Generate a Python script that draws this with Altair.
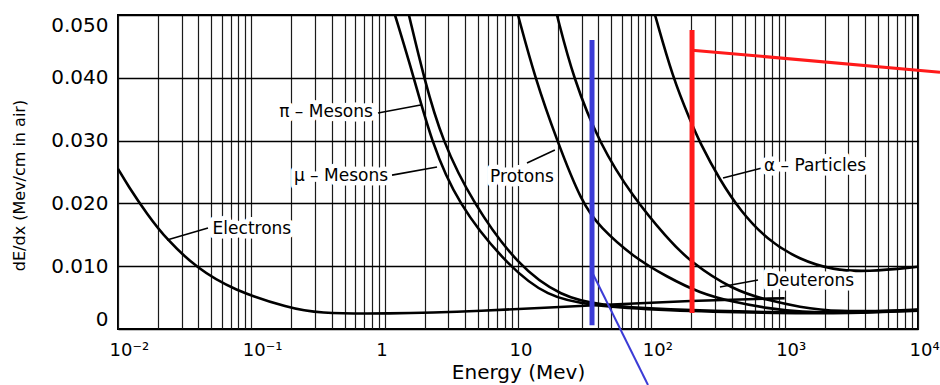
import altair as alt
import pandas as pd

# ---------------- data ----------------
particles = ["Electrons", "mu-Mesons", "pi-Mesons", "Protons", "Deuterons", "Alpha"]

electrons_E = [0.01, 0.0119, 0.0165, 0.0233, 0.039, 0.0729, 0.195, 0.31, 1.0, 5.0, 36.0, 200.0, 1000.0]
electrons_y = [0.0255, 0.0228, 0.0183, 0.0142, 0.0097, 0.0062, 0.0033, 0.0025, 0.0024, 0.0028, 0.0038, 0.0045, 0.0049]

mu_E = [1.195, 1.66, 2.23, 3.49, 8.41, 16.8, 33.5, 120.0, 1000.0, 3000.0, 10000.0]
mu_y = [0.050, 0.040, 0.030, 0.020, 0.010, 0.0051, 0.0038, 0.0029, 0.0025, 0.0025, 0.0029]

pi_E = [1.52, 1.97, 2.69, 4.60, 10.0, 21.4, 41.2, 116.0, 1000.0, 3000.0, 10000.0]
pi_y = [0.050, 0.040, 0.030, 0.020, 0.010, 0.0051, 0.0038, 0.0031, 0.0026, 0.0026, 0.0031]

protons_E = [10.0, 13.4, 19.6, 30.2, 41.2, 72.9, 131.0, 232.0, 410.0, 737.0, 1303.0, 3000.0, 10000.0]
protons_y = [0.050, 0.040, 0.030, 0.020, 0.0162, 0.0115, 0.0083, 0.0057, 0.0043, 0.0033, 0.0027, 0.0025, 0.0030]

deuterons_E = [19.6, 25.9, 41.2, 72.9, 131.0, 195.0, 410.0, 737.0, 1303.0, 2304.0, 10000.0]
deuterons_y = [0.050, 0.040, 0.0293, 0.0210, 0.0145, 0.0107, 0.0062, 0.0046, 0.0035, 0.0027, 0.0030]

alpha_E = [106.6, 145.0, 195.0, 232.0, 327.0, 462.0, 737.0, 1303.0, 2304.0, 4145.0, 10000.0]
alpha_y = [0.050, 0.040, 0.0333, 0.0296, 0.0237, 0.0189, 0.0142, 0.0110, 0.0094, 0.0091, 0.0099]

# curve labels
label_text = ["\u03c0 \u2013 Mesons", "\u03bc \u2013 Mesons", "Protons", "Electrons", "\u03b1 \u2013 Particles", "Deuterons"]
label_E = [0.363, 0.470, 10.7, 0.101, 1689.0, 1549.0]
label_y = [0.03455, 0.02436, 0.0242, 0.0159, 0.02596, 0.00764]

# leader lines from the labels to the curves
arrow_E1 = [0.891, 1.135, 11.68, 0.0473, 676.0, 631.0]
arrow_y1 = [0.0344, 0.0245, 0.02643, 0.01608, 0.02564, 0.0078]
arrow_E2 = [1.905, 2.47, 18.9, 0.0233, 345.0, 327.0]
arrow_y2 = [0.0357, 0.0258, 0.0285, 0.01417, 0.02404, 0.00669]

# red / blue marker strokes drawn over the chart
mark_colors = ["#3b3bd6", "#3b3bd6", "#ff1a1a", "#ff1a1a"]
mark_widths = [5, 2, 5, 3]
mark_E1 = [35.9, 35.9, 202.0, 202.0]
mark_y1 = [0.0460, 0.00908, 0.0476, 0.0444]
mark_E2 = [35.9, 94.4, 202.0, 14620.0]
mark_y2 = [0.0006, -0.00892, 0.00255, 0.0409]

# axis ticks
xtick_values = [0.01, 0.1, 1, 10, 100, 1000, 10000]
xtick_labels = ["10\u207b\u00b2", "10\u207b\u00b9", "1", "10", "10\u00b2", "10\u00b3", "10\u2074"]
ytick_values = [0, 0.01, 0.02, 0.03, 0.04, 0.05]

# ---------------- tables ----------------
series = {
    "Electrons": (electrons_E, electrons_y),
    "mu-Mesons": (mu_E, mu_y),
    "pi-Mesons": (pi_E, pi_y),
    "Protons": (protons_E, protons_y),
    "Deuterons": (deuterons_E, deuterons_y),
    "Alpha": (alpha_E, alpha_y),
}
rows = []
for name in particles:
    xs, ys = series[name]
    for i, (xv, yv) in enumerate(zip(xs, ys)):
        rows.append({"particle": name, "E": xv, "dEdx": yv, "order": i})
curves_df = pd.DataFrame(rows)

labels_df = pd.DataFrame({"text": label_text, "E": label_E, "y": label_y})
arrows_df = pd.DataFrame({"E1": arrow_E1, "y1": arrow_y1, "E2": arrow_E2, "y2": arrow_y2})
marks_df = pd.DataFrame({"color": mark_colors, "w": mark_widths,
                         "E1": mark_E1, "y1": mark_y1, "E2": mark_E2, "y2": mark_y2})

minor_ticks = [k * 10.0 ** d for d in range(-2, 4) for k in range(1, 10)] + [10000.0]

label_expr = " : ".join(
    f"abs(datum.value - {v}) / {v} < 1e-6 ? '{t}'" for v, t in zip(xtick_values, xtick_labels)
) + " : ''"

FONT = "DejaVu Sans"

xscale = alt.Scale(type="log", domain=[0.01, 10000], nice=False)
yscale = alt.Scale(domain=[0, 0.05], nice=False, zero=False)

xaxis = alt.Axis(
    values=minor_ticks, labelExpr=label_expr, grid=True, gridColor="#1a1a1a", gridWidth=1.2,
    ticks=False, domain=False, labelFont=FONT, labelFontSize=18, labelColor="black",
    labelAlign="left", labelOffset=-9, labelFlush=False, labelPadding=12, labelOverlap=False,
    labelBaseline="top",
    title="Energy (Mev)", titleFont=FONT, titleFontSize=20, titleFontWeight="normal",
    titleColor="black", titleY=49, titleBaseline="alphabetic",
)
yaxis = alt.Axis(
    values=ytick_values, labelExpr="datum.value == 0 ? '0' : format(datum.value, '.3f')",
    grid=True, gridColor="black", gridWidth=1.5, ticks=False, domain=False,
    labelFont=FONT, labelFontSize=20, labelColor="black", labelFlush=True, labelPadding=10,
    title="dE/dx (Mev/cm in air)", titleFont=FONT, titleFontSize=16, titleFontWeight="normal",
    titleColor="black", titleX=-99, titleY=170, titleAngle=-90, titleAlign="center",
    titleBaseline="middle",
)

curves = alt.Chart(curves_df).mark_line(color="black", strokeWidth=2.6, interpolate="basis").encode(
    x=alt.X("E:Q", scale=xscale, axis=xaxis),
    y=alt.Y("dEdx:Q", scale=yscale, axis=yaxis),
    detail="particle:N",
    order="order:Q",
)

arrows = alt.Chart(arrows_df).mark_rule(color="black", strokeWidth=1.6).encode(
    x=alt.X("E1:Q", scale=xscale, axis=xaxis),
    y=alt.Y("y1:Q", scale=yscale, axis=yaxis),
    x2="E2:Q",
    y2="y2:Q",
)

text_enc = dict(
    x=alt.X("E:Q", scale=xscale, axis=xaxis),
    y=alt.Y("y:Q", scale=yscale, axis=yaxis),
    text="text:N",
)

halo = alt.Chart(labels_df).mark_text(font=FONT, fontSize=17, color="white", stroke="white",
                                      strokeWidth=9, strokeJoin="round",
                                      align="center", baseline="middle").encode(**text_enc)

labels = alt.Chart(labels_df).mark_text(font=FONT, fontSize=17, color="black",
                                        align="center", baseline="middle").encode(**text_enc)

overlay = alt.Chart(marks_df).mark_rule().encode(
    x=alt.X("E1:Q", scale=xscale, axis=xaxis),
    y=alt.Y("y1:Q", scale=yscale, axis=yaxis),
    x2="E2:Q",
    y2="y2:Q",
    color=alt.Color("color:N", scale=None),
    strokeWidth=alt.StrokeWidth("w:Q", scale=None),
)

chart = alt.layer(curves, arrows, halo, labels, overlay).properties(
    width=800, height=314,
    padding={"left": 118, "top": 15, "right": 22, "bottom": 56},
    autosize=alt.AutoSizeParams(type="none"),
    background="white",
).configure_view(stroke="black", strokeWidth=2)

chart.save("out.html", embed_options={"renderer": "svg", "actions": False})
